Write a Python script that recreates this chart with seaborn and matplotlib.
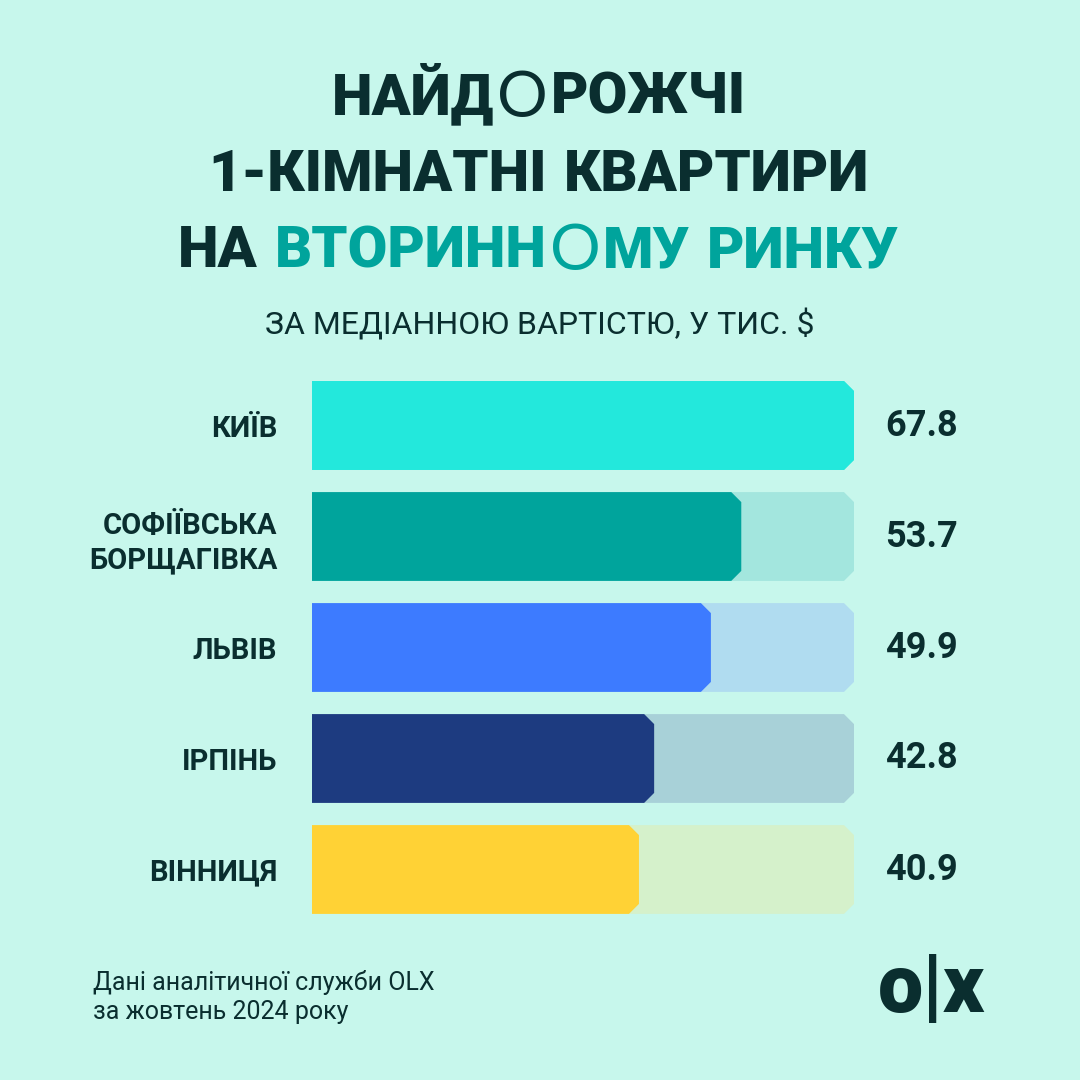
import matplotlib
matplotlib.use("Agg")
import matplotlib.pyplot as plt
from matplotlib.patches import Polygon
import pandas as pd
import seaborn as sns

# data
cities = ["КИЇВ", "СОФІЇВСЬКА\nБОРЩАГІВКА", "ЛЬВІВ", "ІРПІНЬ", "ВІННИЦЯ"]
prices = [67.8, 53.7, 49.9, 42.8, 40.9]
bar_colors = ["#23e8dc", "#00a49c", "#3d7bff", "#1d3b80", "#ffd235"]
track_colors = ["#23e8dc", "#a3e6de", "#b0dcf0", "#a8d1d8", "#d5f1cb"]

BG = "#c7f7ec"
DARK = "#0a2e2f"
TEAL = "#00a49c"

sns.set_theme(style="white")
plt.rcParams["font.family"] = ["Roboto", "DejaVu Sans"]
RING = ["Lato", "DejaVu Sans"]

df = pd.DataFrame({"city": cities, "price": prices})
df["track"] = max(prices)

fig = plt.figure(figsize=(10.8, 10.8), dpi=100, facecolor=BG)
ax = fig.add_axes([312 / 1080, 155 / 1080, 542 / 1080, 555 / 1080])
ax.set_facecolor(BG)

# light "track" behind, coloured value bar on top
sns.barplot(data=df, x="track", y="city", hue="city", palette=track_colors,
            width=0.8, saturation=1, errorbar=None, legend=False, ax=ax)
sns.barplot(data=df, x="price", y="city", hue="city", palette=bar_colors,
            width=0.8, saturation=1, errorbar=None, legend=False, ax=ax)


def chamfer(patch, cx=1.25, cy=0.09):
    x0, y0 = patch.get_x(), patch.get_y()
    x1, y1 = x0 + patch.get_width(), y0 + patch.get_height()
    pts = [(x0, y0), (x1 - cx, y0), (x1, y0 + cy), (x1, y1 - cy), (x1 - cx, y1), (x0, y1)]
    poly = Polygon(pts, closed=True, facecolor=patch.get_facecolor(),
                   edgecolor="none", zorder=patch.get_zorder())
    patch.set_visible(False)
    ax.add_patch(poly)


for p in list(ax.patches):
    chamfer(p)

ax.set_xlim(0, max(prices))
ax.set_ylim(len(cities) - 0.5, -0.5)
sns.despine(ax=ax, left=True, bottom=True)
ax.set_xticks([])
ax.set_xlabel("")
ax.set_ylabel("")
ax.tick_params(axis="y", length=0, pad=25)
for lab in ax.get_yticklabels():
    lab.set_fontsize(21)
    lab.set_fontweight("bold")
    lab.set_color(DARK)
    lab.set_linespacing(1.3)

for i, v in enumerate(prices):
    ax.text(1.057, i, f"{v:.1f}", transform=ax.get_yaxis_transform(),
            ha="left", va="center", fontsize=26, fontweight="bold", color=DARK)

# title, built from pieces so the "О" can be drawn as an open ring
renderer = fig.canvas.get_renderer()


def centered_line(y, pieces, size):
    em = size * 100 / 72
    texts, widths = [], []
    for s, color, weight in pieces:
        if s == " ":
            texts.append(None)
            widths.append(0.24 * em)
            continue
        if weight == "ring":
            t = fig.text(0, y - 0.003, s, fontsize=size * 1.1, color=color,
                         fontweight="normal", family=RING, ha="left", va="baseline")
        else:
            t = fig.text(0, y, s, fontsize=size, color=color, fontweight=weight,
                         ha="left", va="baseline")
        texts.append(t)
        widths.append(t.get_window_extent(renderer).width + 0.05 * em)
    total = sum(widths)
    x = 540 - total / 2
    for t, w in zip(texts, widths):
        if t is not None:
            t.set_x(x / 1080)
        x += w


TS = 41.5
W = "black"
centered_line(1 - 114 / 1080, [("НАЙД", DARK, W), ("О", DARK, "ring"),
                               ("РОЖЧІ", DARK, W)], TS)
centered_line(1 - 191 / 1080, [("1-КІМНАТНІ", DARK, W), (" ", None, None),
                               ("КВАРТИРИ", DARK, W)], TS)
centered_line(1 - 267 / 1080, [("НА", DARK, W), (" ", None, None),
                               ("ВТОРИНН", TEAL, W), ("О", TEAL, "ring"),
                               ("МУ", TEAL, W), (" ", None, None),
                               ("РИНКУ", TEAL, W)], TS)

fig.text(0.5, 1 - 334 / 1080, "ЗА МЕДІАННОЮ ВАРТІСТЮ, У ТИС. $", ha="center",
         va="baseline", fontsize=23, color=DARK)

fig.text(93 / 1080, 1 - 990 / 1080, "Дані аналітичної служби OLX", ha="left",
         va="baseline", fontsize=18, color=DARK)
fig.text(93 / 1080, 1 - 1019 / 1080, "за жовтень 2024 року", ha="left",
         va="baseline", fontsize=18, color=DARK)

fig.text(932 / 1080, 1 - 990 / 1080, "o|x", ha="center", va="center",
         fontsize=58, fontweight="black", color=DARK)

fig.savefig("out.png", dpi=100, facecolor=BG)
